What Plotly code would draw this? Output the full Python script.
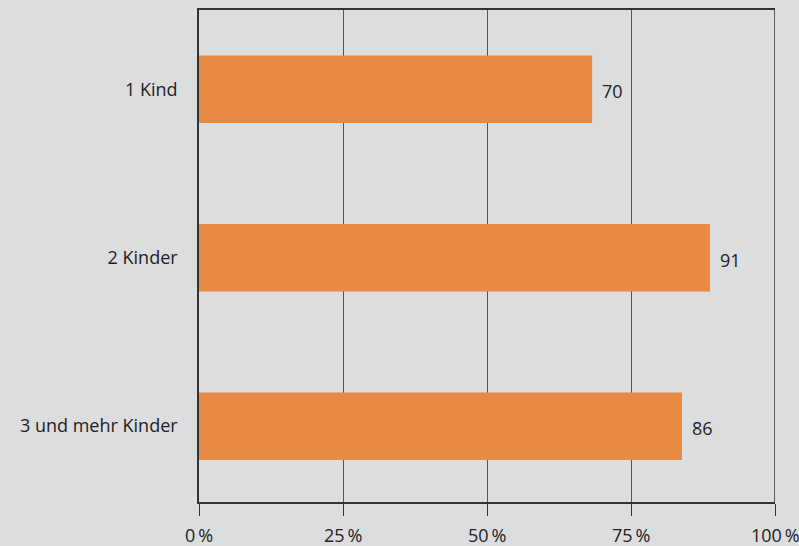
import plotly.graph_objects as go

categories = ["1 Kind", "2 Kinder", "3 und mehr Kinder"]
values = [70, 91, 86]
labels = ["70", "91", "86"]
tick_vals = [0, 25, 50, 75, 100]
tick_text = ["0\u2009%", "25\u2009%", "50\u2009%", "75\u2009%", "100\u2009%"]

BG = "#dcdddf"
BAR = "#e88a45"
FONT = "Open Sans"
TXT = "#222222"

fig = go.Figure()
fig.add_trace(go.Bar(
    y=categories, x=values, orientation="h",
    marker=dict(color=BAR, line=dict(width=0)),
    width=0.4, xaxis="x2", yaxis="y", hoverinfo="skip",
))
for c, v, t in zip(categories, values, labels):
    fig.add_annotation(x=v, y=c, xref="x2", yref="y", text=t, showarrow=False,
                       xanchor="left", xshift=8, yshift=-2,
                       font=dict(family=FONT, size=18, color=TXT))
for tv, tt in zip(tick_vals, tick_text):
    fig.add_annotation(x=tv, y=0, xref="x", yref="paper", text=tt, showarrow=False,
                       xanchor="center", yanchor="middle", yshift=-33,
                       font=dict(family=FONT, size=18, color=TXT))

fig.update_layout(
    width=799, height=546,
    paper_bgcolor=BG, plot_bgcolor=BG,
    margin=dict(l=199, r=24, t=10, b=44, autoexpand=False),
    showlegend=False,
    font=dict(family=FONT, size=18, color=TXT),
    xaxis=dict(range=[0, 100], tickvals=tick_vals, showticklabels=False,
               showgrid=True, gridcolor="#555555", gridwidth=1,
               showline=True, linecolor="#333333", linewidth=1.5, mirror=True,
               ticks="outside", ticklen=12, tickcolor="#333333", tickwidth=1,
               zeroline=False, fixedrange=True, automargin=False),
    xaxis2=dict(range=[0, 102.56], overlaying="x", visible=False, fixedrange=True),
    yaxis=dict(categoryorder="array", categoryarray=categories,
               range=[2.45, -0.47], showgrid=False, zeroline=False,
               showline=True, linecolor="#333333", linewidth=1.5,
               ticks="", ticklabelstandoff=16, automargin=False,
               tickfont=dict(family=FONT, size=18, color=TXT)),
)
fig.add_shape(type="line", xref="x", yref="paper", x0=100, x1=100, y0=0, y1=1,
              line=dict(color="#333333", width=1.5), layer="above")
fig.write_html("out.html")
